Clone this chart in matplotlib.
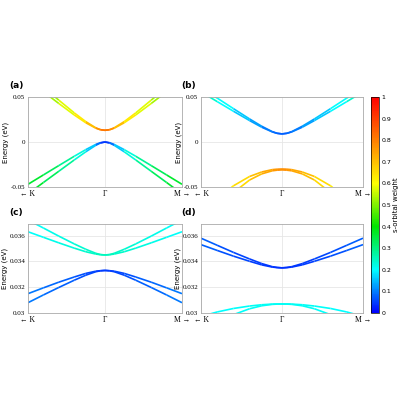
import numpy as np
import matplotlib
matplotlib.use("Agg")
import matplotlib.pyplot as plt
from matplotlib.collections import LineCollection
from matplotlib.colors import LinearSegmentedColormap

k_half = [0, 0.06, 0.12, 0.25, 0.4, 0.6, 0.8, 1.0]

# panel (a)
a_up1 = [0.013, 0.01371, 0.01577, 0.02268, 0.0324, 0.0465, 0.0608, 0.0754]
a_up2 = [0.013, 0.01362, 0.01535, 0.0214, 0.0301, 0.0428, 0.0559, 0.0692]
a_lo1 = [0.0, -0.0008, -0.0027, -0.0085, -0.0159, -0.0262, -0.0366, -0.047]
a_lo2 = [0.0, -0.0011, -0.0037, -0.0109, -0.0200, -0.0325, -0.045, -0.0576]
a_w_up = [0.82, 0.80, 0.74, 0.66, 0.60, 0.55, 0.51, 0.48]
a_w_lo = [0.03, 0.06, 0.12, 0.20, 0.26, 0.31, 0.35, 0.38]
# panel (b)
b_up1 = [0.009, 0.0097, 0.0115, 0.0175, 0.0256, 0.0371, 0.0488, 0.0607]
b_up2 = [0.009, 0.0096, 0.0112, 0.0164, 0.0238, 0.0342, 0.0449, 0.0557]
b_lo1 = [-0.030, -0.0302, -0.0307, -0.0333, -0.0383, -0.0487, -0.0633, -0.082]
b_lo2 = [-0.031, -0.0313, -0.0320, -0.0354, -0.0422, -0.0562, -0.0758, -0.101]
b_w_up = [0.07, 0.08, 0.09, 0.11, 0.14, 0.18, 0.22, 0.26]
b_w_lo = [0.78, 0.77, 0.75, 0.72, 0.68, 0.64, 0.60, 0.57]
# panel (c)
c_up1 = [0.0345, 0.03453, 0.03463, 0.03494, 0.03536, 0.03596, 0.03659, 0.03721]
c_up2 = [0.0345, 0.03452, 0.03457, 0.03475, 0.03503, 0.03544, 0.03587, 0.0363]
c_w_up = [0.25, 0.25, 0.25, 0.24, 0.23, 0.22, 0.21, 0.20]
c_lo1 = [0.0333, 0.03328, 0.03324, 0.03307, 0.03279, 0.03239, 0.03195, 0.0315]
c_lo2 = [0.0333, 0.03327, 0.03320, 0.03293, 0.03254, 0.03198, 0.0314, 0.0308]
c_w_lo = [0.05, 0.05, 0.05, 0.06, 0.07, 0.08, 0.09, 0.10]
# panel (d)
d_up1 = [0.0335, 0.03353, 0.03359, 0.03383, 0.03419, 0.0347, 0.03525, 0.0358]
d_up2 = [0.0335, 0.03352, 0.03356, 0.03373, 0.03401, 0.03441, 0.03485, 0.0353]
d_w_up = [0.04, 0.04, 0.04, 0.05, 0.05, 0.06, 0.07, 0.08]
d_lo1 = [0.0307, 0.03069, 0.03067, 0.03056, 0.03033, 0.02987, 0.02922, 0.02839]
d_lo2 = [0.0307, 0.03070, 0.03069, 0.03064, 0.03054, 0.03035, 0.03008, 0.02973]
d_w_lo = [0.21, 0.21, 0.21, 0.21, 0.21, 0.20, 0.20, 0.20]

xtick_labels = ["← K", "Γ", "M →"]
cbar_ticks = [0, 0.1, 0.2, 0.3, 0.4, 0.5, 0.6, 0.7, 0.8, 0.9, 1]
cbar_labels = ["0", "0.1", "0.2", "0.3", "0.4", "0.5", "0.6", "0.7", "0.8", "0.9", "1"]

panels = [
    ("(a)", [0.07, 0.5325, 0.385, 0.225], (-0.05, 0.05), [-0.05, 0, 0.05], ["-0.05", "0", "0.05"],
     [(a_up1, a_w_up), (a_up2, a_w_up), (a_lo1, a_w_lo), (a_lo2, a_w_lo)]),
    ("(b)", [0.5025, 0.5325, 0.405, 0.225], (-0.05, 0.05), [-0.05, 0, 0.05], ["-0.05", "0", "0.05"],
     [(b_up1, b_w_up), (b_up2, b_w_up), (b_lo1, b_w_lo), (b_lo2, b_w_lo)]),
    ("(c)", [0.07, 0.2175, 0.385, 0.2225], (0.030, 0.0369), [0.030, 0.032, 0.034, 0.036], ["0.03", "0.032", "0.034", "0.036"],
     [(c_up1, c_w_up), (c_up2, c_w_up), (c_lo1, c_w_lo), (c_lo2, c_w_lo)]),
    ("(d)", [0.5025, 0.2175, 0.405, 0.2225], (0.030, 0.0369), [0.030, 0.032, 0.034, 0.036], ["0.03", "0.032", "0.034", "0.036"],
     [(d_up1, d_w_up), (d_up2, d_w_up), (d_lo1, d_w_lo), (d_lo2, d_w_lo)]),
]

cmap = LinearSegmentedColormap.from_list(
    "sw", [(0, (0, 0, 1)), (0.2, (0, 1, 1)), (0.4, (0, 0.9, 0)), (0.6, (1, 1, 0)),
           (0.8, (1, 0.5, 0)), (1, (1, 0, 0))])
norm = plt.Normalize(0, 1)
fig = plt.figure(figsize=(4, 4), dpi=100)
serif = "Liberation Serif"

for label, pos, ylim, yt, ytl, bands in panels:
    ax = fig.add_axes(pos)
    for e_half, w_half in bands:
        k = np.concatenate([-np.array(k_half[::-1]), np.array(k_half[1:])])
        e = np.concatenate([np.array(e_half[::-1]), np.array(e_half[1:])])
        w = np.concatenate([np.array(w_half[::-1]), np.array(w_half[1:])])
        pts = np.column_stack([k, e]).reshape(-1, 1, 2)
        segs = np.concatenate([pts[:-1], pts[1:]], axis=1)
        lc = LineCollection(segs, cmap=cmap, norm=norm, linewidth=1.2)
        lc.set_array((w[:-1] + w[1:]) / 2)
        ax.add_collection(lc)
    ax.set_xlim(-1, 1)
    ax.set_ylim(*ylim)
    ax.set_xticks([-1, 0, 1])
    ax.set_xticklabels(xtick_labels, fontsize=5.5, family=serif)
    ax.set_yticks(yt)
    ax.set_yticklabels(ytl, fontsize=5, family=serif)
    ax.grid(True, color="#e6e6e6", linewidth=0.6)
    ax.tick_params(length=0, pad=2)
    for s in ax.spines.values():
        s.set_color("#aaaaaa")
        s.set_linewidth(0.6)
    ax.set_ylabel("Energy (eV)", fontsize=5, labelpad=1)
    ax.text(-0.12, 1.1, label, transform=ax.transAxes, fontsize=6.5, fontweight="bold")

cax = fig.add_axes([0.9275, 0.2175, 0.02, 0.54])
sm = plt.cm.ScalarMappable(cmap=cmap, norm=norm)
cb = fig.colorbar(sm, cax=cax, ticks=cbar_ticks)
cb.ax.set_yticklabels(cbar_labels, fontsize=4.5)
cb.ax.tick_params(length=0, pad=2)
cb.outline.set_linewidth(0.5)
cb.set_label("s-orbital weight", fontsize=5, labelpad=1)

fig.savefig("out.png", dpi=100)
